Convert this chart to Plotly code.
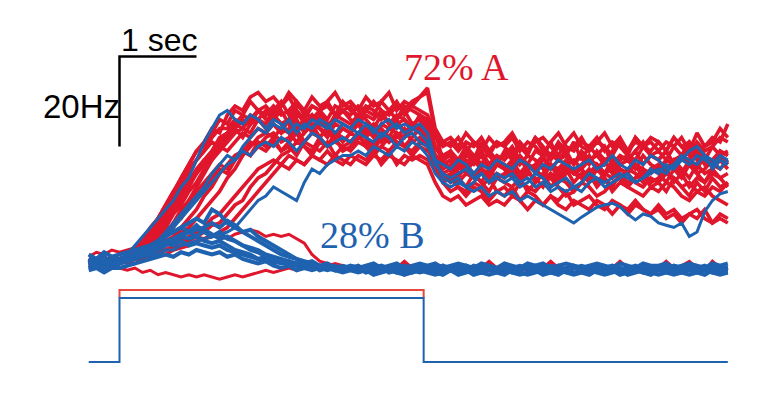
import numpy as np
import plotly.graph_objects as go

# Sampling times (s) of the firing-rate traces; stimulus onset at 0 s
time_s = np.round(np.arange(84) * 0.1 - 0.4, 2)

# Firing rate (Hz) of single trials, choice A (red)
red_a_1 = [4, 5, 3.5, 5,
           4.5, 5.5, 7, 9, 11, 14, 17, 20, 23, 26,
           29, 30, 33, 36, 35, 38, 37, 40, 38, 39,
           37, 39, 41, 38, 36, 39, 38, 40, 37, 38,
           39, 36, 38, 37, 40, 38, 36, 39, 38, 37,
           35, 30, 28, 29, 27, 30, 28, 26, 29, 27,
           28, 30, 27, 26, 29, 28, 31, 27, 28, 26,
           29, 27, 28, 30, 26, 28, 27, 29, 31, 28,
           27, 29, 26, 28, 30, 27, 28, 26, 29, 28]
red_a_2 = [5, 4, 5.5, 4,
           5, 5.5, 7, 9, 12, 14, 17, 20, 22, 25,
           27, 29, 31, 30, 33, 34, 32, 35, 36, 34,
           35, 33, 36, 34, 35, 37, 34, 33, 36, 35,
           34, 36, 33, 35, 34, 32, 35, 36, 34, 35,
           33, 27, 24, 25, 23, 26, 24, 22, 25, 23,
           24, 26, 23, 25, 22, 24, 26, 23, 25, 24,
           23, 25, 22, 24, 26, 23, 25, 24, 22, 25,
           24, 22, 25, 23, 26, 24, 22, 25, 23, 24]
red_a_3 = [4, 4.5, 5, 4,
           5, 4.5, 6, 8, 10, 13, 16, 19, 23, 26,
           29, 31, 34, 33, 37, 39, 38, 41, 42, 40,
           41, 39, 42, 40, 38, 41, 39, 40, 42, 39,
           40, 38, 41, 39, 40, 42, 38, 40, 39, 41,
           43, 34, 31, 30, 32, 29, 31, 30, 28, 31,
           30, 32, 29, 31, 30, 28, 31, 33, 30, 29,
           31, 30, 32, 29, 31, 30, 28, 32, 30, 31,
           29, 31, 30, 32, 29, 33, 30, 31, 34, 32]
red_a_4 = [5, 4, 4.5, 5,
           4, 5, 6, 7, 9, 11, 14, 17, 20, 22,
           24, 26, 28, 30, 29, 31, 33, 32, 34, 33,
           32, 34, 33, 31, 33, 35, 32, 34, 33, 31,
           33, 32, 34, 33, 31, 34, 33, 32, 35, 33,
           31, 28, 26, 27, 25, 27, 26, 28, 25, 27,
           26, 24, 27, 25, 26, 28, 25, 27, 26, 24,
           26, 28, 25, 27, 24, 26, 27, 25, 28, 26,
           25, 27, 26, 24, 27, 25, 28, 26, 25, 27]
red_a_5 = [4, 5, 4, 4.5,
           5, 4.5, 5, 6, 8, 10, 12, 15, 17, 20,
           22, 25, 27, 29, 31, 33, 34, 33, 36, 35,
           37, 35, 36, 38, 35, 37, 36, 34, 37, 36,
           35, 37, 36, 34, 37, 35, 36, 38, 35, 36,
           34, 28, 24, 22, 23, 21, 24, 22, 20, 23,
           22, 21, 23, 20, 22, 24, 21, 23, 22, 20,
           22, 24, 21, 23, 20, 22, 21, 23, 24, 21,
           22, 20, 23, 21, 19, 22, 20, 23, 21, 22]
red_a_6 = [3.5, 4, 5, 4,
           4.5, 5, 5.5, 6, 7, 9, 11, 13, 16, 18,
           20, 22, 24, 26, 25, 27, 29, 28, 30, 29,
           31, 29, 30, 28, 31, 30, 29, 31, 28, 30,
           29, 31, 30, 28, 30, 29, 31, 30, 28, 30,
           29, 28, 27, 29, 26, 28, 27, 29, 26, 28,
           27, 29, 26, 28, 27, 25, 28, 27, 29, 26,
           28, 26, 29, 27, 28, 26, 27, 29, 26, 28,
           27, 29, 26, 28, 27, 29, 26, 27, 28, 26]
red_a_7 = [4, 5, 4, 5,
           5, 5, 5.5, 6, 7, 8, 10, 12, 15, 18,
           21, 24, 27, 30, 32, 34, 36, 35, 38, 37,
           39, 37, 38, 40, 37, 39, 38, 36, 39, 38,
           37, 39, 38, 40, 38, 37, 39, 38, 40, 41,
           42, 33, 27, 25, 26, 24, 27, 25, 23, 26,
           25, 27, 24, 26, 25, 23, 26, 25, 27, 24,
           25, 23, 26, 24, 27, 25, 24, 26, 23, 25,
           26, 24, 27, 25, 23, 26, 24, 25, 27, 25]
red_a_8 = [5, 4, 5, 4.5,
           4, 5, 5, 5.5, 6, 7, 9, 10, 12, 14,
           16, 19, 21, 24, 26, 28, 29, 31, 30, 32,
           33, 31, 32, 34, 31, 33, 32, 30, 33, 32,
           31, 33, 32, 30, 33, 31, 32, 34, 31, 32,
           30, 25, 22, 20, 21, 19, 21, 20, 18, 20,
           19, 21, 18, 20, 19, 17, 19, 18, 20, 17,
           18, 19, 17, 16, 18, 17, 15, 17, 16, 15,
           17, 15, 16, 14, 15, 16, 14, 13, 15, 14]
red_a_9 = [4, 4.5, 5, 4,
           5, 4.5, 5, 5, 6, 6.5, 7, 8, 9, 10,
           11, 12, 14, 15, 17, 19, 21, 23, 25, 26,
           27, 26, 28, 27, 26, 28, 27, 29, 27, 26,
           28, 27, 26, 28, 27, 29, 26, 28, 27, 28,
           27, 25, 23, 24, 22, 24, 23, 25, 22, 24,
           23, 25, 22, 24, 23, 21, 24, 23, 25, 22,
           24, 22, 25, 23, 21, 24, 22, 23, 25, 22,
           23, 25, 22, 24, 21, 23, 22, 24, 23, 21]
red_a_10 = [5, 4, 4.5, 5,
            4, 5, 5, 6, 6, 7, 8, 9, 11, 12,
            14, 16, 18, 20, 23, 25, 28, 30, 32, 33,
            35, 33, 34, 36, 33, 35, 34, 32, 35, 34,
            33, 35, 34, 32, 35, 34, 36, 33, 35, 34,
            35, 32, 30, 31, 29, 31, 30, 32, 29, 31,
            30, 28, 31, 29, 32, 30, 28, 31, 29, 30,
            32, 29, 31, 30, 28, 31, 29, 32, 30, 29,
            31, 29, 32, 30, 28, 31, 29, 30, 32, 31]
red_a_11 = [4, 5, 4, 4.5,
            5, 4, 5, 5, 5.5, 6, 6, 7, 7.5, 8,
            9, 9.5, 10, 11, 12, 14, 16, 18, 20, 22,
            24, 26, 25, 27, 26, 28, 27, 26, 28, 27,
            26, 28, 27, 29, 26, 28, 27, 26, 28, 27,
            26, 22, 19, 18, 19, 17, 18, 19, 17, 18,
            17, 19, 18, 16, 18, 17, 19, 17, 16, 18,
            17, 16, 18, 17, 15, 17, 16, 18, 16, 15,
            16, 14, 15, 13, 15, 14, 16, 13, 14, 13]
red_a_12 = [4.5, 5, 4, 5,
            5, 5.5, 6.5, 8, 10, 12, 15, 18, 21, 24,
            27, 29, 32, 34, 34, 36, 35, 37, 36, 38,
            36, 38, 35, 37, 36, 34, 37, 35, 36, 38,
            36, 35, 37, 36, 38, 35, 37, 36, 34, 37,
            36, 30, 27, 28, 26, 29, 27, 31, 28, 26,
            29, 27, 30, 28, 32, 29, 27, 30, 28, 31,
            27, 30, 28, 26, 29, 31, 28, 27, 30, 28,
            29, 27, 30, 28, 31, 29, 27, 30, 28, 29]
red_a_13 = [4.5, 5, 4, 5,
            5, 4.5, 5.5, 6.5, 7, 9, 10, 13, 14, 17,
            19, 20, 23, 25, 24, 27, 29, 28, 31, 30,
            32, 29, 31, 33, 30, 29, 32, 34, 31, 30,
            31, 33, 30, 29, 32, 31, 33, 30, 32, 34,
            32, 26, 22, 23, 21, 20, 22, 21, 23, 20,
            21, 19, 22, 21, 20, 22, 23, 21, 19, 20,
            22, 21, 19, 20, 22, 23, 21, 20, 19, 21,
            20, 22, 21, 19, 18, 20, 21, 19, 18, 17]
red_a_14 = [5, 4, 4.5, 5.5,
            5, 5.5, 6, 7.5, 9, 11, 13, 16, 18, 21,
            24, 27, 28, 31, 33, 35, 34, 36, 38, 37,
            38, 40, 37, 39, 38, 36, 38, 39, 37, 40,
            38, 37, 39, 38, 36, 38, 40, 37, 39, 38,
            37, 33, 31, 32, 30, 33, 31, 29, 32, 30,
            31, 33, 30, 29, 31, 32, 30, 28, 31, 33,
            30, 29, 31, 33, 30, 32, 29, 31, 30, 32,
            31, 29, 32, 30, 31, 28, 30, 32, 31, 35]
red_a_15 = [4, 4.5, 5, 4,
            4.5, 5, 5, 5.5, 6, 6, 7, 7.5, 8, 9,
            10, 11, 12.5, 13, 15, 17, 18, 21, 23, 24,
            26, 28, 29, 31, 30, 28, 31, 30, 32, 29,
            30, 32, 31, 29, 30, 32, 31, 30, 29, 31,
            30, 27, 25, 26, 24, 25, 27, 25, 24, 26,
            25, 23, 24, 26, 25, 23, 24, 22, 24, 25,
            23, 24, 26, 24, 23, 25, 24, 22, 21, 23,
            22, 24, 23, 21, 22, 20, 19, 21, 20, 22]
red_a_16 = [4.5, 4, 5, 4.5,
            5, 5.5, 6.5, 8, 9.5, 12, 14, 17, 19, 22,
            25, 27, 29, 32, 33, 35, 37, 36, 38, 36,
            37, 35, 36, 34, 36, 33, 35, 34, 32, 34,
            33, 35, 32, 34, 33, 31, 33, 32, 34, 33,
            32, 28, 26, 27, 25, 26, 28, 26, 25, 27,
            25, 26, 28, 26, 25, 27, 26, 24, 26, 27,
            25, 27, 26, 24, 25, 27, 28, 26, 25, 24,
            26, 25, 27, 28, 26, 24, 25, 27, 29, 28]

# Choice B trials that stay near baseline (red)
red_b_1 = [5.5, 6.5, 6, 7,
           6.5, 7, 7.5, 8, 7.5, 8.5, 9, 8.5, 9.5, 9,
           10, 9.5, 10.5, 10, 9.5, 10.5, 11, 11.5, 11, 10,
           10.5, 10, 10.5, 9.5, 8.5, 6, 4.5, 4, 3.5, 3.5,
           3, 3.5, 3, 2.5, 3, 3.5, 3, 4.5, 3, 2.5,
           3, 3.5, 2.5, 3, 3.5, 3, 2.5, 3, 4.5, 3,
           3.5, 3, 2.5, 3, 3.5, 3, 4.5, 3, 2.5, 3,
           3, 3.5, 3, 2.5, 3, 4.5, 3, 3.5, 3, 2.5,
           3, 4.5, 3, 3.5, 4.5, 3, 2.5, 3, 3.5, 3]
red_b_2 = [3, 3.5, 2.5, 3,
           3, 2.5, 3, 2, 2.5, 1.5, 2, 1.5, 1, 1.5,
           1, 1.5, 1, 0.5, 1, 1.5, 1, 1.5, 2, 2.5,
           2, 2.5, 3, 2.5, 3, 3.5, 3, 3.5, 4, 3.5,
           2.5, 2, 2.5, 3, 2, 2.5, 2, 3, 2.5, 2,
           2.5, 3, 2, 2.5, 2, 3, 2.5, 2, 2.5, 3,
           2, 2.5, 3, 2.5, 2, 2.5, 3, 2, 2.5, 2,
           2.5, 2, 3, 2.5, 2, 2.5, 2, 3, 2.5, 2,
           3, 2.5, 2, 2.5, 3, 2, 2.5, 4.5, 3, 2.5]

# Choice B trials near baseline (blue)
blue_b_1 = [4, 5, 3.5, 5,
            4.5, 5, 6, 7, 8, 9, 10, 11, 12, 13,
            14, 13, 16, 15, 13, 12, 11, 10, 9, 8,
            7, 6, 5.5, 5, 4, 4.5, 3.5, 4, 3, 3.5,
            3, 3.5, 2.5, 3, 3.5, 2.5, 3, 2, 3, 2.5,
            3, 2.5, 3.5, 3, 2, 3, 2.5, 3.5, 3, 2.5,
            3.5, 3, 2.5, 3, 3.5, 2.5, 3, 2, 3, 3.5,
            2.5, 3, 3.5, 2.5, 3, 2, 3, 3.5, 2.5, 3,
            3, 2.5, 3.5, 3, 2.5, 3, 3.5, 2.5, 3, 2.5]
blue_b_2 = [5, 4, 5.5, 4,
            5, 5.5, 6, 7.5, 8, 9, 10.5, 11, 12, 11,
            12.5, 11, 10, 11, 9.5, 9, 8, 7.5, 7, 6,
            5.5, 5, 4.5, 4, 3.5, 4, 3, 3.5, 2.5, 3,
            2.5, 3, 2, 2.5, 3, 2, 2.5, 1.5, 2.5, 2,
            2.5, 2, 1.5, 2.5, 2, 2.5, 1.5, 2, 2.5, 2,
            1.5, 2.5, 2, 1.5, 2, 2.5, 2, 1.5, 2.5, 2,
            2, 1.5, 2.5, 2, 2.5, 1.5, 2, 2.5, 2, 1.5,
            2.5, 2, 1.5, 2, 2.5, 2, 1.5, 2.5, 2, 2]
blue_b_3 = [3, 4, 3, 3.5,
            4, 4.5, 5, 6, 7, 8, 8.5, 9, 10, 9.5,
            10, 9, 8.5, 9, 8, 7, 6.5, 6, 5, 5.5,
            4.5, 4, 4.5, 3.5, 3, 3.5, 3, 2.5, 3, 2.5,
            3.5, 3, 3.5, 4, 3, 3.5, 4, 3, 3.5, 4,
            3.5, 4, 3, 3.5, 4, 3.5, 3, 4, 3.5, 3,
            4, 3.5, 3, 4, 3.5, 4, 3, 3.5, 4, 3.5,
            3, 3.5, 4, 3.5, 3, 4, 3.5, 3, 4, 3.5,
            3.5, 4, 3, 3.5, 4, 3.5, 3, 4, 3.5, 4]
blue_b_4 = [6, 5, 6.5, 5.5,
            6, 6.5, 7, 7.5, 8, 7.5, 8.5, 8, 9, 8,
            8.5, 8, 7.5, 8, 7, 6.5, 6, 5.5, 5, 4.5,
            4, 4.5, 3.5, 4, 3, 3.5, 2.5, 3, 2.5, 2,
            2.5, 2, 2.5, 1.5, 2, 2.5, 2, 1.5, 2, 2.5,
            2, 1.5, 2, 2.5, 1.5, 2, 2.5, 2, 1.5, 2,
            2.5, 2, 1.5, 2, 2.5, 1.5, 2, 2.5, 2, 1.5,
            2, 2.5, 2, 1.5, 2, 2.5, 1.5, 2, 2.5, 2,
            1.5, 2, 2.5, 2, 1.5, 2, 2.5, 2, 1.5, 2]
blue_b_5 = [2.5, 3, 2, 3,
            3, 3.5, 4, 4.5, 5, 5.5, 6, 5.5, 6.5, 6,
            7, 6.5, 6, 6.5, 5.5, 6, 5, 4.5, 4, 4.5,
            3.5, 3, 3.5, 2.5, 3, 2.5, 3, 3.5, 2.5, 3,
            3.5, 3, 2.5, 3, 3.5, 3, 2.5, 3.5, 3, 3,
            3, 3.5, 2.5, 3, 3, 3.5, 2.5, 3, 3.5, 3,
            2.5, 3, 3.5, 3, 2.5, 3.5, 3, 2.5, 3, 3.5,
            3, 2.5, 3.5, 3, 3.5, 2.5, 3, 3, 3.5, 2.5,
            3, 3.5, 2.5, 3, 3.5, 3, 2.5, 3.5, 3, 3]
blue_b_6 = [4, 3.5, 4.5, 4,
            4, 4.5, 5, 5.5, 6, 7, 8, 9, 10, 11,
            11.5, 12, 13, 12, 13.5, 12.5, 11, 11.5, 10, 9,
            8, 7, 6, 5, 4.5, 4, 3.5, 3, 3.5, 2.5,
            3, 2.5, 3, 3.5, 2.5, 3, 2, 2.5, 3, 3.5,
            2.5, 3, 3.5, 2.5, 3, 2.5, 3.5, 3, 2.5, 3,
            3, 2.5, 3, 3.5, 2.5, 3, 3.5, 3, 2.5, 3,
            3.5, 3, 2.5, 3, 3.5, 3, 2.5, 3, 3.5, 3,
            2.5, 3, 3.5, 3, 2.5, 3, 3, 3.5, 2.5, 3]
blue_b_7 = [4.5, 5, 4, 4.5,
            5, 5.5, 6, 6.5, 7, 8, 9, 9.5, 10.5, 11,
            10, 11.5, 10.5, 9.5, 10, 9, 8, 7, 6.5, 5.5,
            5, 4.5, 4, 3.5, 4, 3, 3.5, 3, 2.5, 3,
            3, 2.5, 3, 2, 2.5, 3, 3.5, 2.5, 2, 3,
            2.5, 3, 2, 2.5, 3, 3.5, 2.5, 2, 3, 2.5,
            3, 2, 2.5, 3, 2.5, 2, 3, 3.5, 2.5, 3,
            2.5, 3, 3.5, 2, 2.5, 3, 2.5, 3, 2, 2.5,
            3, 2.5, 2, 3, 3.5, 2.5, 3, 2, 2.5, 3]

# Choice A trials drawn in blue
blue_a_1 = [5, 4, 5, 4.5,
            5, 6, 8, 10, 12, 14, 16, 18, 21, 23,
            27, 31, 34, 37, 38, 36, 35, 37, 36, 34,
            36, 35, 33, 35, 34, 36, 35, 34, 36, 35,
            34, 36, 35, 33, 35, 36, 34, 35, 34, 33,
            31, 26, 24, 23, 24, 25, 23, 24, 22, 24,
            23, 24, 22, 23, 21, 22, 20, 21, 20, 21,
            20, 22, 23, 22, 23, 24, 23, 22, 23, 24,
            25, 24, 26, 27, 29, 30, 28, 27, 25, 27]
blue_a_2 = [4, 5, 4.5, 5,
            4, 5, 5, 6, 5.5, 6, 7, 7, 8, 8.5,
            9, 9.5, 10, 10.5, 11, 12, 14, 16, 18, 19,
            21, 20, 19, 18, 22, 25, 24, 26, 27, 28,
            28, 29, 28, 30, 29, 28, 30, 29, 31, 30,
            28, 24, 22, 21, 22, 21, 20, 21, 19, 20,
            19, 20, 18, 19, 18, 17, 16, 15, 14, 13,
            14.3, 15.5, 16.5, 17, 17.4, 16.6, 15, 13.7, 15, 14.5,
            13, 12.5, 12, 13, 10, 11, 15.5, 18, 19.5, 20]
blue_a_3 = [5, 4.5, 4, 5,
            5, 5.5, 6, 7, 8, 9, 11, 13, 15, 17,
            19, 21, 24, 26, 28, 27, 30, 32, 34, 33,
            35, 34, 36, 33, 35, 34, 36, 35, 33, 35,
            34, 33, 35, 34, 32, 34, 35, 33, 34, 35,
            33, 27, 23, 22, 23, 21, 22, 24, 22, 23,
            22, 23, 21, 22, 24, 23, 21, 22, 23, 21,
            22, 24, 23, 21, 22, 23, 24, 22, 23, 25,
            24, 26, 25, 27, 26, 28, 27, 26, 28, 27]
blue_a_4 = [4, 5, 5, 4,
            5, 5, 6, 6.5, 7.5, 9, 10, 12, 14, 16,
            18, 20, 22, 24, 26, 27, 29, 28, 30, 31,
            30, 32, 31, 29, 31, 33, 32, 30, 31, 32,
            31, 33, 32, 31, 33, 32, 30, 32, 33, 31,
            30, 27, 26, 25, 27, 26, 24, 26, 25, 27,
            26, 25, 27, 26, 24, 26, 25, 27, 26, 25,
            26, 27, 25, 26, 28, 26, 25, 27, 26, 28,
            27, 25, 26, 28, 27, 26, 28, 25, 27, 26]

red_a = [red_a_1, red_a_2, red_a_3, red_a_4, red_a_5, red_a_6, red_a_7, red_a_8,
         red_a_9, red_a_10, red_a_11, red_a_12, red_a_13, red_a_14, red_a_15, red_a_16]
red_b = [red_b_1, red_b_2]
blue_b = [blue_b_1, blue_b_2, blue_b_3, blue_b_4, blue_b_5, blue_b_6, blue_b_7]
blue_a = [blue_a_1, blue_a_2, blue_a_3, blue_a_4]

# Stimulus timing (s) and levels
stim_t = [-0.4, 0, 0, 3.95, 3.95, 7.9]
stim_blue = [0, 0, 1, 1, 0, 0]
stim_red_t = [0, 0, 3.95, 3.95]
stim_red = [1, 1.125, 1.125, 1]

# Scale bars: 1 s horizontal, 20 Hz vertical
scale_t = [1, 0, 0]
scale_hz = [50, 50, 30]

RED = "#e0162c"
BLUE = "#1e62b0"

fig = go.Figure()


def add_group(group, color, width):
    for vals in group:
        fig.add_trace(go.Scatter(x=time_s, y=vals, mode="lines",
                                 line=dict(color=color, width=width)))


add_group(red_b, RED, 3)
add_group(red_a, RED, 3.6)
add_group(blue_b, BLUE, 4)
add_group(blue_a, BLUE, 3)

fig.add_trace(go.Scatter(x=scale_t, y=scale_hz, mode="lines",
                         line=dict(color="black", width=2.5)))

fig.add_trace(go.Scatter(x=stim_red_t, y=stim_red, mode="lines", yaxis="y2",
                         line=dict(color="#e8473f", width=2)))
fig.add_trace(go.Scatter(x=stim_t, y=stim_blue, mode="lines", yaxis="y2",
                         line=dict(color=BLUE, width=2)))

fig.add_annotation(x=4.38, y=47.7, xref="x", yref="y", text="72% A",
                   showarrow=False, font=dict(family="Liberation Serif", size=38, color=RED))
fig.add_annotation(x=3.28, y=10.3, xref="x", yref="y", text="28% B",
                   showarrow=False, font=dict(family="Liberation Serif", size=38, color=BLUE))
fig.add_annotation(x=-0.01, y=49.3, xref="x", yref="y", text="1 sec",
                   xanchor="left", yanchor="bottom", showarrow=False,
                   font=dict(family="Liberation Sans", size=32, color="black"))
fig.add_annotation(x=0.03, y=39, xref="x", yref="y", text="20Hz",
                   xanchor="right", yanchor="middle", showarrow=False,
                   font=dict(family="Liberation Sans", size=33, color="black"))

fig.update_layout(
    width=758, height=418,
    margin=dict(l=0, r=0, t=0, b=0),
    paper_bgcolor="white", plot_bgcolor="white",
    showlegend=False,
    xaxis=dict(range=[-1.5519, 8.2922], visible=False),
    yaxis=dict(range=[-30.333, 62.556], visible=False),
    yaxis2=dict(range=[-0.875, 5.65625], overlaying="y", visible=False),
)

fig.write_html("out.html")
